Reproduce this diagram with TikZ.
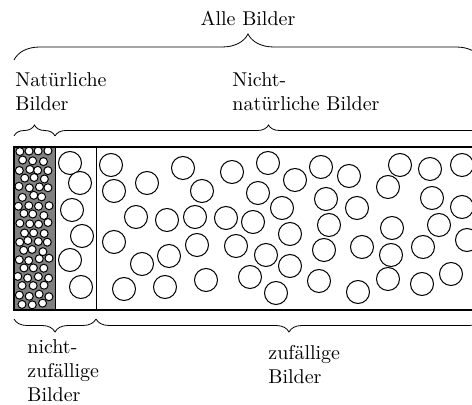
\documentclass[tikz,border=0pt]{standalone}
\usepackage{tikz}
\usetikzlibrary{decorations.pathreplacing}

\begin{document}
\begin{tikzpicture}[x=0.5pt,y=-0.5pt,
    klammer/.style={decorate,decoration={brace,amplitude=#1}},
    kreis/.style={draw=black,line width=0.5pt,fill=white},
    kleinkreis/.style={draw=black,line width=0.5pt,fill=white},
    beschriftung/.style={align=left,anchor=north west,inner sep=0pt}]
    \clip (0,0) rectangle (472,405);
    % Eckpunkte
    \coordinate (ol) at (14,147);
    \coordinate (ur) at (482,310);
    \coordinate (nat) at (55,147);
    \coordinate (zuf) at (96,147);
    % natuerliche Bilder
    \fill[gray] (ol) rectangle (55,310);
    \begin{scope}
    \clip (ol) rectangle (55,310);
    \pgfmathsetseed{11}
    \foreach \j in {0,...,17}{
        \pgfmathtruncatemacro{\n}{3-mod(\j,2)}
        \foreach \i in {0,...,\n}{
            \pgfmathsetmacro{\px}{18.8+\i*9.6+mod(\j,2)*4.8+1.6*rand}
            \pgfmathsetmacro{\py}{151.5+\j*9+1.4*rand}
            \draw[kleinkreis] (\px,\py) circle (4);
        }
    }
    \end{scope}
    % zufaellige Bilder
    \foreach \px/\py in {70/163,80/183,72/210,82/236,70/260,81/287,
        111/165,114/191,147/183,183/168,202/191,232/172,136/217,167/220,
        195/217,226/218,114/242,169/256,197/245,142/264,124/289,165/287,
        206/280,236/246,
        268/163,295/180,321/167,349/176,258/193,282/208,326/199,357/208,
        253/222,290/234,329/225,266/255,324/250,362/247,290/266,250/277,
        319/281,276/293,358/292,
        400/165,430/169,462/165,388/187,432/198,462/207,392/228,439/225,
        467/240,391/255,423/247,388/279,422/284,451/274}
        \draw[kreis] (\px,\py) circle (11.5);
    \draw[line width=0.8pt] (ol) rectangle (ur);
    \draw[line width=0.5pt] (nat) -- (55,310);
    \draw[line width=0.5pt] (zuf) -- (96,310);
    % Klammern oben
    \coordinate (k1) at (14,60);
    \coordinate (k2) at (482,60);
    \coordinate (k3) at (14,136);
    \coordinate (k4) at (55,136);
    \coordinate (k5) at (482,136);
    \draw[klammer=13pt] (k1) -- (k2);
    \draw[klammer=5.5pt] (k3) -- (k4);
    \draw[klammer=5.5pt] (k4) -- (k5);
    % Klammern unten
    \coordinate (u1) at (14,319);
    \coordinate (u2) at (96,319);
    \coordinate (u3) at (482,319);
    \draw[klammer=6.5pt] (u2) -- (u1);
    \draw[klammer=6.5pt] (u3) -- (u2);
    % Beschriftungen
    \node[beschriftung,anchor=north] (alle) at (248,11) {Alle Bilder};
    \node[beschriftung] (natl) at (15,72) {Natürliche\\Bilder};
    \node[beschriftung] (nnatl) at (232,72) {Nicht-\\natürliche Bilder};
    \node[beschriftung] (nzufl) at (27,339) {nicht-\\zufällige\\Bilder};
    \node[beschriftung] (zufl) at (268,345) {zufällige\\Bilder};
\end{tikzpicture}
\end{document}
